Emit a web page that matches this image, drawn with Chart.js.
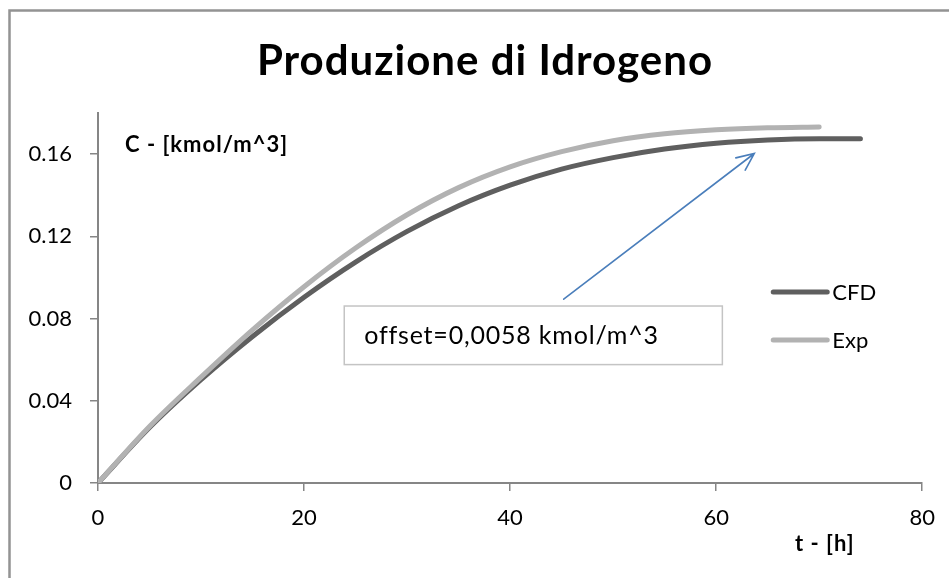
<!DOCTYPE html>
<html>
<head>
<meta charset="utf-8">
<title>Produzione di Idrogeno</title>
<script src="https://cdn.jsdelivr.net/npm/chart.js@4/dist/chart.umd.min.js"></script>
<style>
  html, body { margin: 0; padding: 0; background: #fff; }
  #wrap { width: 949px; height: 578px; }
</style>
</head>
<body>
<div id="wrap"><canvas id="h2Chart" width="949" height="578"></canvas></div>
<script>
// tempo [h] e concentrazione [kmol/m^3]
const tCfd = [0, 5, 10, 15, 20, 25, 30, 35, 40, 45, 50, 55, 60, 65, 70, 74];
const cfdValues = [0, 0.027, 0.0503, 0.0713, 0.0904, 0.1075, 0.1224, 0.1349, 0.1449, 0.1527, 0.1583, 0.1625, 0.1653, 0.1669, 0.1675, 0.1675];

const tExp = [0, 5, 10, 15, 20, 25, 30, 35, 40, 45, 50, 55, 60, 65, 70];
const expValues = [0, 0.0275, 0.0515, 0.0745, 0.0955, 0.1143, 0.1305, 0.1437, 0.1538, 0.1612, 0.1665, 0.1699, 0.1718, 0.1728, 0.1732];

const seriesNames = ["CFD", "Exp"];
const xTicks = [0, 20, 40, 60, 80];
const yTicks = [0, 0.04, 0.08, 0.12, 0.16];

const chartTitle = "Produzione di Idrogeno";
const yTitle = "C - [kmol/m^3]";
const xTitle = "t - [h]";
const noteText = "offset=0,0058 kmol/m^3";

// nota e freccia, in unità degli assi
const noteBox = { t0: 23.9, t1: 60.6, cTop: 0.0861, cBottom: 0.0576 };
const arrow = { t0: 45.2, c0: 0.0894, t1: 63.7, c1: 0.1603 };

const FONT = "Lato, 'Open Sans', sans-serif";
const AXIS_GREY = "#868686";

function toPoints(xs, ys) {
    return xs.map((x, i) => ({ x: x, y: ys[i] }));
}

const decorations = {
    id: "decorations",
    beforeDraw(chart) {
        const ctx = chart.ctx;
        ctx.save();
        ctx.fillStyle = "#fff";
        ctx.fillRect(0, 0, chart.width, chart.height);
        // cornice esterna
        ctx.strokeStyle = "#939393";
        ctx.lineWidth = 2.5;
        ctx.beginPath();
        ctx.moveTo(9.5, chart.height + 5);
        ctx.lineTo(9.5, 10.5);
        ctx.lineTo(chart.width + 5, 10.5);
        ctx.stroke();
        ctx.restore();
    },
    afterDraw(chart) {
        const ctx = chart.ctx;
        const xs = chart.scales.x, ys = chart.scales.y;
        const area = chart.chartArea;
        ctx.save();

        // titolo
        ctx.fillStyle = "#000";
        ctx.font = "bold 42px " + FONT;
        ctx.letterSpacing = "1px";
        ctx.textAlign = "center";
        ctx.textBaseline = "alphabetic";
        ctx.fillText(chartTitle, 485, 75);

        // titoli degli assi
        ctx.font = "bold 22px " + FONT;
        ctx.letterSpacing = "1px";
        ctx.textAlign = "left";
        ctx.fillText(yTitle, 125, 152);
        ctx.fillText(xTitle, 795, 551);

        // riquadro con l'offset
        const bx0 = xs.getPixelForValue(noteBox.t0), bx1 = xs.getPixelForValue(noteBox.t1);
        const by0 = ys.getPixelForValue(noteBox.cTop), by1 = ys.getPixelForValue(noteBox.cBottom);
        ctx.fillStyle = "#fff";
        ctx.fillRect(bx0, by0, bx1 - bx0, by1 - by0);
        ctx.strokeStyle = "#c4c4c4";
        ctx.lineWidth = 1.5;
        ctx.strokeRect(bx0, by0, bx1 - bx0, by1 - by0);
        ctx.fillStyle = "#000";
        ctx.font = "25px " + FONT;
        ctx.letterSpacing = "0.8px";
        ctx.textBaseline = "middle";
        ctx.fillText(noteText, bx0 + 20, (by0 + by1) / 2 + 1);
        ctx.letterSpacing = "0px";

        // freccia
        const ax0 = xs.getPixelForValue(arrow.t0), ay0 = ys.getPixelForValue(arrow.c0);
        const ax1 = xs.getPixelForValue(arrow.t1), ay1 = ys.getPixelForValue(arrow.c1);
        const ang = Math.atan2(ay1 - ay0, ax1 - ax0);
        const head = 19, spread = 0.42;
        ctx.strokeStyle = "#4a7ebb";
        ctx.lineWidth = 1.6;
        ctx.lineCap = "round";
        ctx.beginPath();
        ctx.moveTo(ax0, ay0);
        ctx.lineTo(ax1, ay1);
        ctx.moveTo(ax1 - head * Math.cos(ang - spread), ay1 - head * Math.sin(ang - spread));
        ctx.lineTo(ax1, ay1);
        ctx.lineTo(ax1 - head * Math.cos(ang + spread), ay1 - head * Math.sin(ang + spread));
        ctx.stroke();

        // legenda dentro l'area del grafico
        const lx = area.right - 149;
        chart.data.datasets.forEach((ds, i) => {
            const ly = 292 + i * 48;
            ctx.strokeStyle = ds.borderColor;
            ctx.lineWidth = 5;
            ctx.lineCap = "round";
            ctx.beginPath();
            ctx.moveTo(lx, ly);
            ctx.lineTo(lx + 54, ly);
            ctx.stroke();
            ctx.fillStyle = "#000";
            ctx.font = "22px " + FONT;
            ctx.textAlign = "left";
            ctx.textBaseline = "middle";
            ctx.fillText(ds.label, lx + 59, ly + 1);
        });

        ctx.restore();
    }
};

const ctx = document.getElementById("h2Chart").getContext("2d");
new Chart(ctx, {
    type: "line",
    data: {
        datasets: [{
            label: seriesNames[0],
            data: toPoints(tCfd, cfdValues),
            borderColor: "#5f5f5f",
            borderWidth: 5,
            borderCapStyle: "round",
            pointRadius: 0,
            cubicInterpolationMode: "monotone",
            fill: false,
            order: 1
        }, {
            label: seriesNames[1],
            data: toPoints(tExp, expValues),
            borderColor: "#b2b2b2",
            borderWidth: 5,
            borderCapStyle: "round",
            pointRadius: 0,
            cubicInterpolationMode: "monotone",
            fill: false,
            order: 0
        }]
    },
    options: {
        responsive: false,
        animation: false,
        layout: { padding: { top: 113, right: 26, left: 0, bottom: 0 } },
        plugins: {
            legend: { display: false },
            tooltip: { enabled: false },
            title: { display: false }
        },
        scales: {
            x: {
                type: "linear",
                min: 0,
                max: 80,
                afterBuildTicks: (scale) => { scale.ticks = xTicks.map(v => ({ value: v })); },
                afterFit: (scale) => { scale.height = 95; },
                grid: { drawOnChartArea: false, drawTicks: true, tickLength: 8, color: AXIS_GREY, lineWidth: 1.5 },
                border: { display: true, color: AXIS_GREY, width: 2 },
                ticks: {
                    color: "#000",
                    padding: 14,
                    maxRotation: 0,
                    font: { family: FONT, size: 22 }
                }
            },
            y: {
                type: "linear",
                min: 0,
                max: 0.18,
                afterBuildTicks: (scale) => { scale.ticks = yTicks.map(v => ({ value: v })); },
                afterFit: (scale) => { scale.width = 98; },
                grid: { drawOnChartArea: false, drawTicks: true, tickLength: 8, color: AXIS_GREY, lineWidth: 1.5 },
                border: { display: true, color: AXIS_GREY, width: 2 },
                ticks: {
                    color: "#000",
                    padding: 18,
                    font: { family: FONT, size: 22 },
                    callback: (v) => v === 0 ? "0" : v.toFixed(2)
                }
            }
        }
    },
    plugins: [decorations]
});
</script>
</body>
</html>
